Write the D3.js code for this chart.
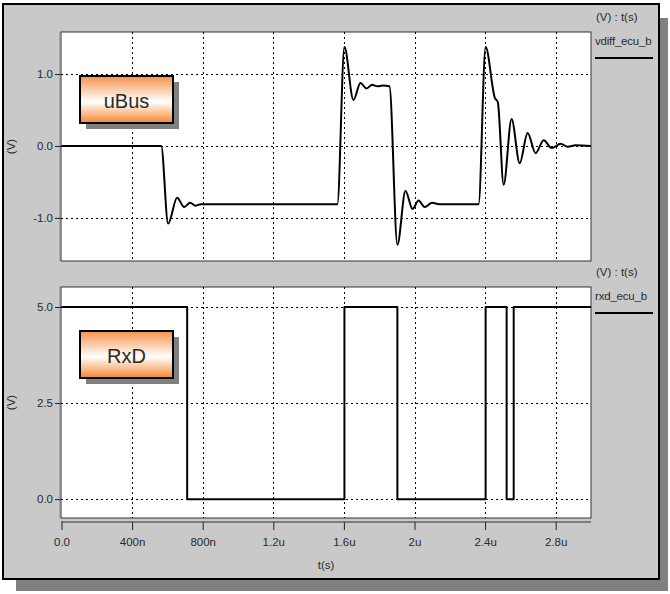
<!DOCTYPE html>
<html lang="en">
<head>
    <meta charset="UTF-8">
    <title>uBus / RxD</title>
    <style>
        body { margin: 0; background: #fff; }
        svg { display: block; }
        text { font-family: "Liberation Sans", Arial, sans-serif; fill: #2a2a2a; }
    </style>
    <script src="https://d3js.org/d3.v7.min.js"></script>
</head>
<body>
    <div id="chart"></div>

    <script>
        // x ticks (seconds) and their labels
        const xTicks = [0, 400e-9, 800e-9, 1.2e-6, 1.6e-6, 2e-6, 2.4e-6, 2.8e-6];
        const xTickLabels = ["0.0", "400n", "800n", "1.2u", "1.6u", "2u", "2.4u", "2.8u"];

        // uBus differential voltage (time in ns, volts)
        const uBusT = [0, 565, 604, 655, 695, 729, 760, 790, 1563, 1603, 1654, 1694, 1728, 1760, 1790, 1820, 1858,
                       1903, 1949, 1989, 2023, 2057, 2100, 2140, 2363, 2403, 2455, 2472, 2505, 2550, 2596, 2641,
                       2686, 2732, 2777, 2828, 2868, 2913, 3000];
        const uBusV = [0, 0, -1.08, -0.72, -0.85, -0.79, -0.83, -0.81, -0.81, 1.375, 0.64, 0.875, 0.8, 0.85, 0.83, 0.84, 0.83,
                       -1.375, -0.625, -0.875, -0.76, -0.85, -0.79, -0.81, -0.81, 1.375, 0.67, 0.61, -0.54, 0.375, -0.24, 0.18,
                       -0.1, 0.08, -0.03, 0.03, -0.01, 0.01, 0];
        const uBusTicks = [1.0, 0.0, -1.0];
        const uBusTickLabels = ["1.0", "0.0", "-1.0"];

        // RxD logic level (time in ns where level starts, volts)
        const rxdT = [0, 712, 1603, 1903, 2403, 2522, 2562, 3000];
        const rxdV = [5, 0, 5, 0, 5, 0, 5, 5];
        const rxdTicks = [5.0, 2.5, 0.0];
        const rxdTickLabels = ["5.0", "2.5", "0.0"];

        const W = 670, H = 594;
        const svg = d3.select('#chart').append('svg')
            .attr('width', W)
            .attr('height', H);

        // gradient for the name boxes
        const grad = svg.append('defs').append('linearGradient')
            .attr('id', 'orange')
            .attr('x1', 0).attr('y1', 0).attr('x2', 0).attr('y2', 1);
        grad.append('stop').attr('offset', '0%').attr('stop-color', '#f5924a');
        grad.append('stop').attr('offset', '55%').attr('stop-color', '#ffffff');
        grad.append('stop').attr('offset', '100%').attr('stop-color', '#f5862e');

        // window frame with drop shadow
        svg.append('rect').attr('x', 16).attr('y', 18).attr('width', 652).attr('height', 573).attr('fill', '#808080');
        svg.append('rect').attr('x', 3).attr('y', 4).attr('width', 656).attr('height', 575)
            .attr('fill', '#c9c9c9').attr('stroke', '#000').attr('stroke-width', 2);

        const left = 61, right = 591;
        const x = d3.scaleLinear().domain([0, 3e-6]).range([left + 0.5, right]);

        const panels = [
            { top: 32, bottom: 261, domain: [-1.6, 1.585], ticks: uBusTicks, labels: uBusTickLabels,
              t: uBusT, v: uBusV, curve: d3.curveMonotoneX, name: 'uBus', legend: 'vdiff_ecu_b' },
            { top: 287, bottom: 518, domain: [-0.49, 5.52], ticks: rxdTicks, labels: rxdTickLabels,
              t: rxdT, v: rxdV, curve: d3.curveStepAfter, name: 'RxD', legend: 'rxd_ecu_b' }
        ];

        panels.forEach(p => {
            const y = d3.scaleLinear().domain(p.domain).range([p.bottom, p.top]);
            const g = svg.append('g');

            // plot area
            g.append('rect')
                .attr('x', left).attr('y', p.top)
                .attr('width', right - left).attr('height', p.bottom - p.top)
                .attr('fill', '#fff').attr('stroke', '#333').attr('stroke-width', 1);
            g.append('line')
                .attr('x1', left - 1).attr('x2', left - 1).attr('y1', p.top).attr('y2', p.bottom)
                .attr('stroke', '#888').attr('stroke-width', 1);

            // grid
            g.selectAll('.vgrid').data(xTicks.slice(1)).enter().append('line')
                .attr('x1', d => Math.round(x(d)) + 0.5).attr('x2', d => Math.round(x(d)) + 0.5)
                .attr('y1', p.top).attr('y2', p.bottom)
                .attr('stroke', '#000').attr('stroke-dasharray', '2,3');
            g.selectAll('.hgrid').data(p.ticks).enter().append('line')
                .attr('x1', left).attr('x2', right)
                .attr('y1', d => Math.round(y(d)) + 0.5).attr('y2', d => Math.round(y(d)) + 0.5)
                .attr('stroke', '#000').attr('stroke-dasharray', '2,3');

            // y axis
            const yAxis = d3.axisLeft(y)
                .tickValues(p.ticks)
                .tickFormat((d, i) => p.labels[i])
                .tickSize(6)
                .tickPadding(2);
            const ya = svg.append('g')
                .attr('transform', `translate(${left}, 0)`)
                .call(yAxis);
            ya.select('.domain').remove();
            ya.selectAll('text').style('font-size', '11.5px').attr('fill', '#2a2a2a');
            ya.selectAll('line').attr('stroke', '#222');

            svg.append('text')
                .attr('transform', `translate(15, ${(p.top + p.bottom) / 2}) rotate(-90)`)
                .attr('text-anchor', 'middle')
                .style('font-size', '11.5px')
                .text('(V)');

            // signal
            const line = d3.line()
                .x((d, i) => x(p.t[i] * 1e-9))
                .y(d => y(d))
                .curve(p.curve);
            g.append('path')
                .datum(p.v)
                .attr('d', line)
                .attr('fill', 'none')
                .attr('stroke', '#000')
                .attr('stroke-width', 2)
                .attr('stroke-linejoin', 'round');

            // name box
            const bx = 80, by = p.top + 44;
            g.append('rect').attr('x', bx + 6).attr('y', by + 6).attr('width', 93).attr('height', 47).attr('fill', '#808080');
            g.append('rect').attr('x', bx).attr('y', by).attr('width', 93).attr('height', 47)
                .attr('fill', 'url(#orange)').attr('stroke', '#000').attr('stroke-width', 2);
            g.append('text')
                .attr('x', bx + 46.5).attr('y', by + 32)
                .attr('text-anchor', 'middle')
                .style('font-size', '20px')
                .attr('fill', '#111')
                .text(p.name);

            // legend on the right
            svg.append('text')
                .attr('x', 596).attr('y', p.top - 11)
                .style('font-size', '11.5px')
                .text('(V) : t(s)');
            svg.append('text')
                .attr('x', 595).attr('y', p.top + 13)
                .style('font-size', '11.5px')
                .style('letter-spacing', '-0.2px')
                .text(p.legend);
            svg.append('line')
                .attr('x1', 595).attr('x2', 653).attr('y1', p.top + 26).attr('y2', p.top + 26)
                .attr('stroke', '#000').attr('stroke-width', 2);
        });

        // x axis under the lower panel
        const xAxis = d3.axisBottom(x)
            .tickValues(xTicks)
            .tickFormat((d, i) => xTickLabels[i])
            .tickSize(8)
            .tickSizeOuter(0)
            .tickPadding(8);
        const xa = svg.append('g')
            .attr('transform', 'translate(0, 522)')
            .call(xAxis);
        xa.select('.domain').attr('stroke', '#333').attr('d', `M${left},0H${right}`);
        xa.selectAll('text').style('font-size', '11.5px').attr('fill', '#2a2a2a');
        xa.selectAll('line').attr('stroke', '#222');

        svg.append('text')
            .attr('x', (left + right) / 2).attr('y', 569)
            .attr('text-anchor', 'middle')
            .style('font-size', '11.5px')
            .text('t(s)');
    </script>
</body>
</html>
